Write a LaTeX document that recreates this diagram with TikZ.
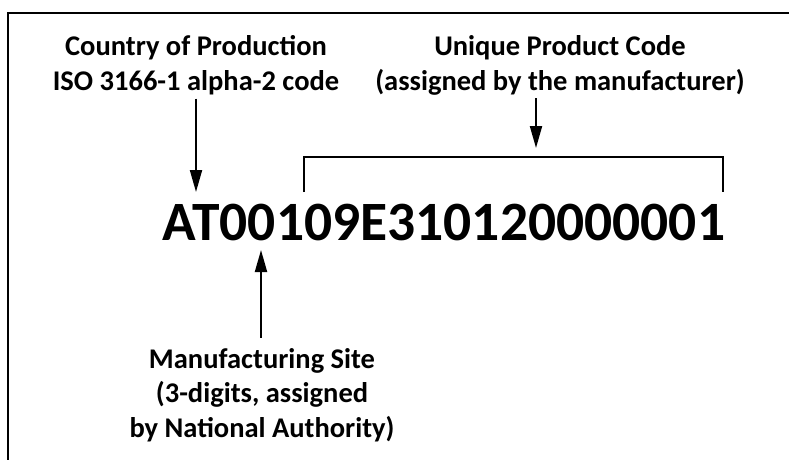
\documentclass[tikz,border=0pt]{standalone}
\usepackage{fontspec}
\setmainfont{Carlito}
\usepackage{tikz}
\usetikzlibrary{arrows.meta}
\usetikzlibrary{positioning}
\tikzstyle{caption}=[font=\fontsize{28.5}{34.5}\selectfont\bfseries,align=center,inner sep=0pt]
\tikzstyle{serial}=[font=\fontsize{55.5}{66}\selectfont\bfseries,inner sep=0pt]

\begin{document}
\begin{tikzpicture}
	[x=1pt,y=-1pt,line join=miter]
	\tikzstyle{arrow}=[-{Triangle[length=22pt,width=12pt]},line width=2pt];
	\tikzstyle{bracket}=[line width=1.3pt];
	\useasboundingbox (0,0) rectangle (789,459);
	\draw[line width=2pt] (8,460) -- (8,12.5) -- (790,12.5);

	\node (code) [serial,anchor=base] at (444,240) {AT00109E310120000001};
	\node (country) [caption,anchor=base] at (196,90) {Country of Production\\ISO 3166-1 alpha-2 code};
	\node (unique) [caption,anchor=base] at (560,90) {Unique Product Code\\(assigned by the manufacturer)};
	\node (site) [caption,anchor=base] at (262,437) {Manufacturing Site\\(3-digits, assigned\\by National Authority)};

	\coordinate (c1) at (196,192);
	\coordinate (u1) at (536,148);
	\coordinate (s1) at (261,250);
	\coordinate (b1) at (304,192);
	\coordinate (b2) at (723,192);

	\draw[arrow] (country.south -| c1) ++(0,4) -- (c1);
	\draw[arrow] (unique.south -| u1) ++(0,3) -- (u1);
	\draw[arrow] (site.north -| s1) ++(0,-10) -- (s1);
	\draw[bracket] (b1) -- ++(0,-35) -| (b2);
\end{tikzpicture}
\end{document}
